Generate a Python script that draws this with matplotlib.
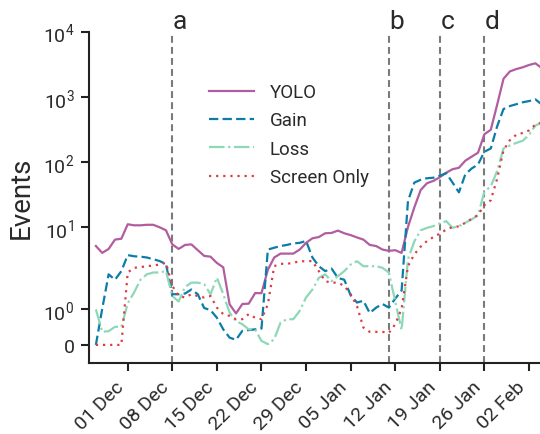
import matplotlib
matplotlib.use("Agg")
import matplotlib.pyplot as plt
import matplotlib.dates as mdates
import matplotlib.transforms as mtransforms
import numpy as np
import pandas as pd

plt.rcParams['font.family'] = ['Roboto', 'DejaVu Sans']
plt.rcParams['font.weight'] = 'normal'
plt.rcParams['mathtext.fontset'] = 'custom'
plt.rcParams['mathtext.rm'] = 'Roboto'
plt.rcParams['mathtext.it'] = 'Roboto:italic'
plt.rcParams['mathtext.bf'] = 'Roboto:bold'

# ---------------- data ----------------
dates = pd.date_range('2019-11-26', '2020-02-04', freq='D')

yolo = [5.1, 4.0, 4.6, 6.4, 6.6,
        11.0, 10.6, 10.6, 10.8, 10.8, 9.9, 8.9, 5.4, 4.6, 5.3,
        5.4, 4.4, 3.6, 3.5, 2.8, 2.4, 1.12, 0.87, 1.13, 1.14,
        1.43, 1.43, 2.2, 3.4, 3.9, 3.9, 3.9, 4.5, 5.7, 6.7,
        7.0, 8.0, 8.1, 8.8, 8.0, 7.5, 6.9, 6.4, 5.3, 5.1,
        4.5, 4.3, 4.4, 4.0, 10.0, 20.0, 37.0, 47.0, 51.0, 58.0,
        68.0, 77.0, 81.0, 104.0, 120.0, 138.0, 265.0, 310.0, 750.0, 1880.0,
        2440.0, 2650.0, 2820.0, 3060.0, 3250.0, 2750.0]

gain = [0.0, 1.0, 1.95, 1.8, 2.1,
        3.7, 3.55, 3.5, 3.4, 3.2, 3.0, 2.7, 1.4, 1.4, 1.42,
        1.53, 1.4, 1.02, 0.96, 0.75, 0.43, 0.2, 0.14, 0.39, 0.41,
        0.43, 0.45, 4.5, 4.8, 5.1, 5.3, 5.6, 5.7, 6.1, 3.4,
        2.5, 2.1, 2.3, 1.85, 1.8, 1.37, 1.17, 1.22, 0.88, 1.03,
        1.13, 1.03, 1.28, 1.5, 25.0, 48.0, 53.0, 56.0, 57.0, 61.0,
        67.0, 48.0, 34.0, 64.0, 79.0, 91.0, 143.0, 160.0, 350.0, 646.0,
        717.0, 765.0, 819.0, 855.0, 910.0, 760.0]

loss = [0.98, 0.36, 0.38, 0.5, 0.5,
        1.15, 1.45, 1.8, 1.95, 2.0, 2.0, 2.1, 1.35, 1.2, 1.6,
        1.72, 1.72, 1.68, 1.4, 1.86, 1.4, 0.89, 0.66, 0.57, 0.43,
        0.43, 0.11, 0.02, 0.16, 0.62, 0.71, 0.71, 0.94, 1.31, 1.53,
        1.85, 1.95, 1.76, 1.9, 2.1, 2.65, 2.98, 2.5, 2.5, 2.5,
        2.36, 2.0, 1.2, 0.41, 3.2, 6.0, 8.9, 9.7, 10.3, 11.3,
        12.3, 9.7, 10.3, 11.6, 13.1, 15.1, 35.0, 42.0, 72.0, 160.0,
        178.0, 195.0, 210.0, 258.0, 360.0, 400.0]

screen = [0.0, 0.0, 0.0, 0.0, 0.0,
          2.0, 2.36, 2.42, 2.5, 2.56, 2.65, 2.82, 1.63, 1.35, 1.31,
          1.4, 1.35, 1.31, 1.35, 1.03, 0.85, 0.8, 0.71, 0.71, 0.85,
          0.75, 0.71, 1.12, 2.5, 2.72, 2.72, 2.82, 2.98, 2.98, 3.0,
          2.1, 1.76, 1.72, 1.72, 1.63, 1.4, 1.07, 0.48, 0.36, 0.36,
          0.36, 0.33, 0.57, 1.0, 2.5, 3.8, 5.0, 6.1, 7.0, 7.9,
          9.1, 10.0, 10.2, 11.6, 13.3, 15.3, 21.6, 25.7, 55.0, 150.0,
          215.0, 260.0, 277.0, 303.0, 372.0, 400.0]

series_names = ['YOLO', 'Gain', 'Loss', 'Screen Only']

event_dates = ['2019-12-08', '2020-01-11', '2020-01-19', '2020-01-26']
event_labels = ['a', 'b', 'c', 'd']

ytick_values = [0, 1, 10, 100, 1000, 10000]
ytick_labels = ['0', r'$\mathregular{10^{0}}$', r'$\mathregular{10^{1}}$',
                r'$\mathregular{10^{2}}$', r'$\mathregular{10^{3}}$',
                r'$\mathregular{10^{4}}$']
xtick_dates = pd.date_range('2019-12-01', '2020-02-02', freq='7D')

# ---------------- styles ----------------
colors = ['#b15d9f', '#0c7da8', '#8ed8b8', '#dc3c45']
styles = ['-', (0, (4.2, 1.9)), (0, (7.0, 1.6, 1.0, 1.6)), (0, (1.0, 2.2))]
text_color = '#2a2a2a'

fig = plt.figure(figsize=(5.4, 4.35), dpi=100)
ax = fig.add_axes([89 / 540, (435 - 364) / 435, 1 - 89 / 540, (364 - 32.5) / 435])

for vals, name, c, ls in zip([yolo, gain, loss, screen], series_names, colors, styles):
    ax.plot(dates, vals, color=c, linestyle=ls, linewidth=1.6, label=name,
            dash_capstyle='butt', solid_joinstyle='round')

ax.set_yscale('symlog', linthresh=2, linscale=1)
ax.set_ylim(-0.5, 1e4)
ax.set_yticks(ytick_values)
ax.set_yticklabels(ytick_labels)
ax.yaxis.set_minor_locator(matplotlib.ticker.NullLocator())

x0 = pd.Timestamp('2019-12-01')
ax.set_xlim(x0 - pd.Timedelta(days=6.08), x0 + pd.Timedelta(days=64.73))
ax.set_xticks(xtick_dates)
ax.xaxis.set_major_formatter(mdates.DateFormatter('%d %b'))
plt.setp(ax.get_xticklabels(), rotation=45, ha='right')

trans = mtransforms.blended_transform_factory(ax.transData, ax.transAxes)
for dt, lab in zip(event_dates, event_labels):
    ts = pd.Timestamp(dt)
    ax.axvline(ts, color='#7a7a7a', linestyle=(0, (3.3, 2.0)), linewidth=1.5, zorder=0)
    ax.text(ts + pd.Timedelta(hours=3), 1.011, lab, transform=trans, ha='left', va='baseline',
            fontsize=19, color=text_color, clip_on=False)

for s in ['top', 'right']:
    ax.spines[s].set_visible(False)
for s in ['left', 'bottom']:
    ax.spines[s].set_linewidth(1.5)
    ax.spines[s].set_color('#222222')

ax.tick_params(axis='both', which='major', length=5.5, width=1.5, color='#222222',
               labelsize=14, labelcolor=text_color, pad=5)
ax.set_ylabel('Events', fontsize=20, color=text_color, labelpad=6)

leg = ax.legend(loc='upper left', bbox_to_anchor=(0.228, 0.895), frameon=False,
                fontsize=13.5, handlelength=2.4, handletextpad=0.85, labelspacing=0.55)
for t in leg.get_texts():
    t.set_color(text_color)

fig.savefig('out.png', dpi=100)
